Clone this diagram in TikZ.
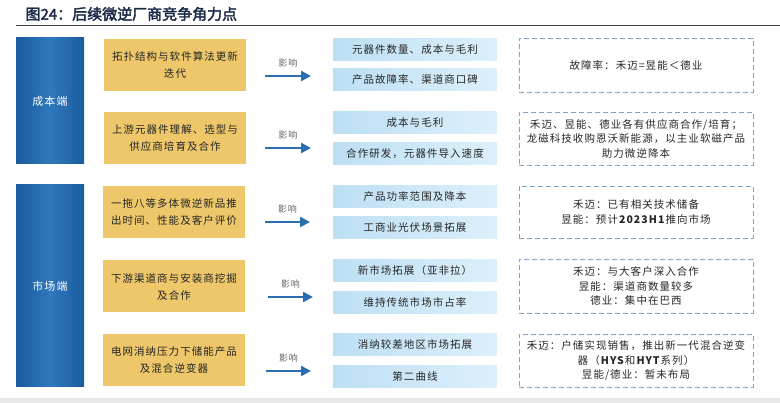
\documentclass[tikz,border=0pt]{standalone}
\usepackage{fontspec}
\setmainfont{Noto Sans CJK SC}[LetterSpace=10]
\newfontfamily\titlefont{Noto Sans CJK SC}[FakeBold=2.5]
\usetikzlibrary{positioning,arrows.meta}

\definecolor{titleink}{HTML}{1C2B48}
\definecolor{sidedark}{HTML}{1A5C9E}
\definecolor{sidelight}{HTML}{2F78BC}
\definecolor{factorfill}{HTML}{EDC76A}
\definecolor{effectleft}{HTML}{BDDFF4}
\definecolor{effectright}{HTML}{DDF0FB}
\definecolor{notedash}{HTML}{7FA4C8}
\definecolor{impactblue}{HTML}{2A6DB0}

\tikzset{
  sidebox/.style={minimum width=68pt, inner sep=0pt, left color=sidedark, right color=sidedark,
    middle color=sidelight, text=white, font=\fontsize{11}{13}\selectfont},
  factor/.style={minimum width=142pt, minimum height=52pt, inner sep=0pt, fill=factorfill,
    align=center, text=black!85, font=\fontsize{10.5}{17}\selectfont},
  effect/.style={minimum width=164pt, minimum height=22pt, inner sep=0pt,
    left color=effectleft, right color=effectright, text=black!85, font=\fontsize{10.5}{12}\selectfont},
  note/.style={minimum width=234pt, inner sep=0pt, draw=notedash, line width=0.9pt,
    dash pattern=on 5pt off 3pt, align=center, text=black!85, font=\fontsize{10.5}{14.5}\selectfont},
  impact/.style={-{Triangle[length=10pt,width=10pt]}, line width=2.4pt, impactblue},
  impactlabel/.style={above=4pt, text=black!60, font=\fontsize{9}{10}\selectfont}
}

\begin{document}
\begin{tikzpicture}[x=1pt, y=-1pt]
                    \useasboundingbox (0,0) rectangle (780,403);
                    \fill[gray!18] (0,398) rectangle (780,403);

                    \node[anchor=west, text=titleink, font=\titlefont\fontsize{15}{17}\selectfont] (title) at (22,14) {图24：后续微逆厂商竞争角力点};
                    \draw[line width=1.4pt, black!75] (16,25.5) -- (780,25.5);

                    \node[sidebox, minimum height=126pt] (cost) at (50,101) {成本端};
                    \node[sidebox, minimum height=202pt] (market) at (50,286) {市场端};

                    \node[factor] (f1) at (175,65) {拓扑结构与软件算法更新\\迭代};
                    \node[factor] (f2) at (175,138) {上游元器件理解、选型与\\供应商培育及合作};
                    \node[factor] (f3) at (174,212) {一拖八等多体微逆新品推\\出时间、性能及客户评价};
                    \node[factor] (f4) at (174,286.5) {下游渠道商与安装商挖掘\\及合作};
                    \node[factor] (f5) at (174,360.5) {电网消纳压力下储能产品\\及混合逆变器};

                    \node[effect] (e1) at (415,50) {元器件数量、成本与毛利};
                    \node[effect] (e2) at (415,80) {产品故障率、渠道商口碑};
                    \node[effect] (e3) at (415,122.5) {成本与毛利};
                    \node[effect] (e4) at (415,153.5) {合作研发，元器件导入速度};
                    \node[effect] (e5) at (415,196.5) {产品功率范围及降本};
                    \node[effect] (e6) at (415,227.5) {工商业光伏场景拓展};
                    \node[effect] (e7) at (415,270.5) {新市场拓展（亚非拉）};
                    \node[effect] (e8) at (415,302.5) {维持传统市场市占率};
                    \node[effect] (e9) at (415,344.5) {消纳较差地区市场拓展};
                    \node[effect] (e10) at (415,376.5) {第二曲线};

                    \node[note, minimum height=54pt] (n1) at (636,65) {故障率：禾迈=昱能＜德业};
                    \node[note, minimum height=53pt] (n2) at (636,138.5) {禾迈、昱能、德业各有供应商合作/培育；\\龙磁科技收购恩沃新能源，以主业软磁产品\\助力微逆降本};
                    \node[note, minimum height=52pt] (n3) at (636,212) {禾迈：已有相关技术储备\\昱能：预计\textbf{2023H1}推向市场};
                    \node[note, minimum height=54pt] (n4) at (636,286) {禾迈：与大客户深入合作\\昱能：渠道商数量较多\\德业：集中在巴西};
                    \node[note, minimum height=53pt] (n5) at (636,360.5) {禾迈：户储实现销售，推出新一代混合逆变\\器（\textbf{HYS}和\textbf{HYT}系列）\\昱能/德业：暂未布局};

                    \coordinate (a1s) at (265,76);
                    \coordinate (a1e) at (311,76);
                    \coordinate (a2s) at (265,148);
                    \coordinate (a2e) at (311,148);
                    \coordinate (a3s) at (265,222);
                    \coordinate (a3e) at (310,222);
                    \coordinate (a4s) at (268,297);
                    \coordinate (a4e) at (313,297);
                    \coordinate (a5s) at (266,371);
                    \coordinate (a5e) at (311,371);

                    \draw[impact] (a1s) -- node[impactlabel] {影响} (a1e);
                    \draw[impact] (a2s) -- node[impactlabel] {影响} (a2e);
                    \draw[impact] (a3s) -- node[impactlabel] {影响} (a3e);
                    \draw[impact] (a4s) -- node[impactlabel] {影响} (a4e);
                    \draw[impact] (a5s) -- node[impactlabel] {影响} (a5e);

                \end{tikzpicture}
\end{document}
